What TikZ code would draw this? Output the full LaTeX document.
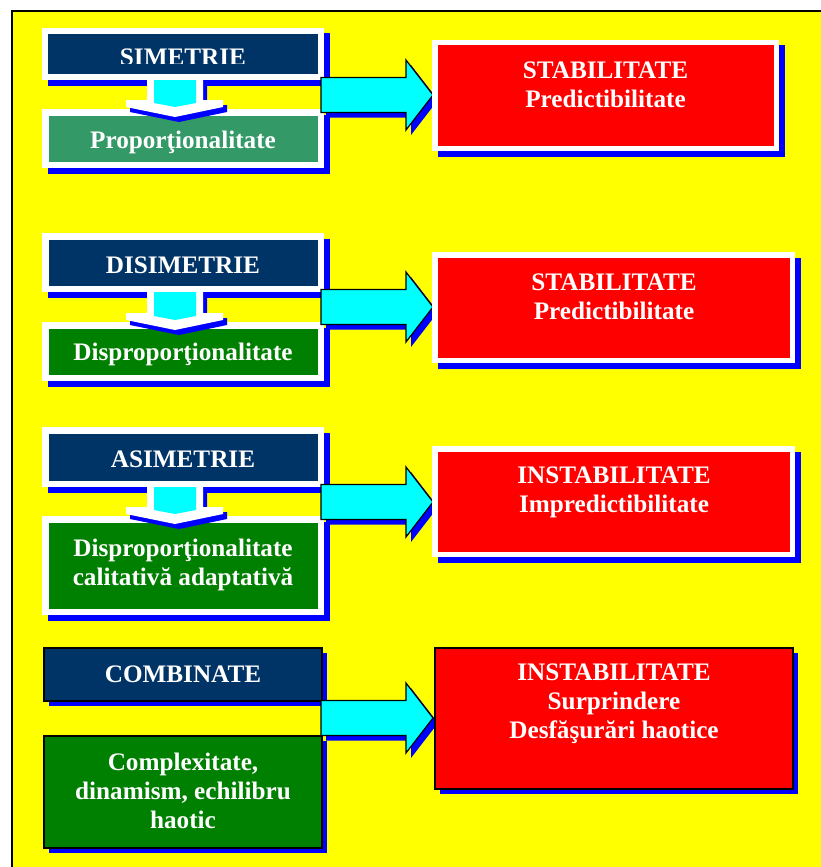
\documentclass[tikz,border=0pt]{standalone}
\usepackage{fontspec}
\setmainfont{Liberation Serif}
\definecolor{navy}{HTML}{003366}
\definecolor{sgreen}{HTML}{339966}
\definecolor{dgreen}{HTML}{008000}
\definecolor{shblue}{HTML}{0000FF}
\definecolor{cyn}{HTML}{00FFFF}
\definecolor{yel}{HTML}{FFFF00}
\definecolor{rd}{HTML}{FF0000}
\tikzset{
  txt/.style={text=white, font=\bfseries\fontsize{25.2}{29}\selectfont, inner sep=0pt, anchor=base},
  shadowfill/.style={fill=shblue},
  blockarrow/.style={fill=cyn, draw=black, line width=1.2pt, line join=miter},
  blackbox/.style={draw=black, line width=1.5pt}
}
% white-framed box: x1 y1 x2 y2 inner-colour inset
\newcommand\wfbox[6]{%
  \fill[shadowfill] (#1+5.5,#2+5.5) rectangle (#3+5.5,#4+5.5);
  \fill[white] (#1,#2) rectangle (#3,#4);
  \fill[#5] (#1+#6,#2+#6) rectangle (#3-#6,#4-#6);}
% black-framed box
\newcommand\bfbox[5]{%
  \fill[shadowfill] (#1+4.5,#2+4.5) rectangle (#3+4.5,#4+4.5);
  \filldraw[blackbox, fill=#5] (#1,#2) rectangle (#3,#4);}
% down arrow between boxes: top At, bottom Bt
\newcommand\dnarrow[2]{%
  \fill[shadowfill] (151,#1+5) -- (151,#2-4) -- (130,#2-4) -- (130,#2+3) -- (179,#2+13) -- (227,#2+3) -- (227,#2-4) -- (207,#2-4) -- (207,#1+5) -- cycle;
  \fill[white] (147,#1) -- (147,#2-9) -- (126,#2-9) -- (126,#2-2) -- (175,#2+8) -- (223,#2-2) -- (223,#2-9) -- (203,#2-9) -- (203,#1) -- cycle;
  \fill[cyn] (154,#1) -- (154,#2-6) -- (175,#2-2) -- (196,#2-6) -- (196,#1) -- cycle;}
% right block arrow centred on cy
\newcommand\rtarrow[1]{%
  \begin{scope}[shift={(5,5)}]
  \fill[shadowfill] (321,#1-17.5) -- (406,#1-17.5) -- (406,#1-35) -- (433,#1) -- (406,#1+35) -- (406,#1+17.5) -- (321,#1+17.5) -- cycle;
  \end{scope}
  \filldraw[blockarrow] (321,#1-17.5) -- (406,#1-17.5) -- (406,#1-35) -- (433,#1) -- (406,#1+35) -- (406,#1+17.5) -- (321,#1+17.5) -- cycle;}
\begin{document}
\begin{tikzpicture}[x=1pt,y=-1pt]
\useasboundingbox (0,0) rectangle (821,867);
\fill[white] (0,0) rectangle (821,867);
\fill[yel] (12,11) rectangle (821,867);
\draw[line width=1.5pt] (12,867) -- (12,11) -- (821,11);

% ---------- group 1
\wfbox{42}{28}{324}{80}{navy}{6}
\wfbox{42}{109}{324}{168}{sgreen}{6.5}
\begin{scope}
  \clip (48,34) rectangle (317,64);
  \node[txt] (t1a) at (183,66) {SIMETRIE};
\end{scope}
\node[txt] (t1b) at (183,148) {Proporţionalitate};
\dnarrow{80}{109}

% ---------- group 2
\wfbox{42}{233}{324}{292}{navy}{6.5}
\wfbox{42}{322}{324}{381}{dgreen}{6.5}
\node[txt] (t2a) at (183,273) {DISIMETRIE};
\node[txt] (t2b) at (183,360) {Disproporţionalitate};
\dnarrow{292}{322}

% ---------- group 3
\wfbox{42}{427}{324}{487}{navy}{6.5}
\wfbox{42}{516}{324}{615}{dgreen}{6.5}
\node[txt] (t3a) at (183,467) {ASIMETRIE};
\node[txt] (t3b) at (183,556) {\begin{tabular}[t]{@{}c@{}}Disproporţionalitate\\calitativă adaptativă\end{tabular}};
\dnarrow{487}{516}

% ---------- group 4
\bfbox{44}{648}{322}{701}{navy}
\bfbox{44}{736}{322}{848}{dgreen}
\node[txt] (t4a) at (183,682) {COMBINATE};
\node[txt] (t4b) at (183,770) {\begin{tabular}[t]{@{}c@{}}Complexitate,\\dinamism, echilibru\\haotic\end{tabular}};

% ---------- right arrows
\rtarrow{95}
\rtarrow{307}
\rtarrow{502}
\rtarrow{718}

% ---------- red boxes
\wfbox{432}{40}{779}{151}{rd}{5.5}
\node[txt] (r1) at (605.5,78) {\begin{tabular}[t]{@{}c@{}}STABILITATE\\Predictibilitate\end{tabular}};
\wfbox{432}{252}{795}{363}{rd}{5.5}
\node[txt] (r2) at (614,290) {\begin{tabular}[t]{@{}c@{}}STABILITATE\\Predictibilitate\end{tabular}};
\wfbox{432}{446}{795}{557}{rd}{5.5}
\node[txt] (r3) at (614,483.5) {\begin{tabular}[t]{@{}c@{}}INSTABILITATE\\Impredictibilitate\end{tabular}};
\bfbox{435}{648}{793}{789}{rd}
\node[txt] (r4) at (614,680) {\begin{tabular}[t]{@{}c@{}}INSTABILITATE\\Surprindere\\Desfăşurări haotice\end{tabular}};
\end{tikzpicture}
\end{document}
